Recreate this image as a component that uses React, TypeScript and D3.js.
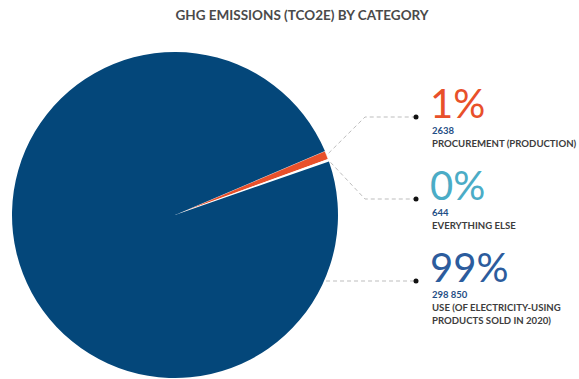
import React from "react";
import * as d3 from "d3";

const categories = ["PROCUREMENT (PRODUCTION)", "EVERYTHING ELSE", "USE (OF ELECTRICITY-USING PRODUCTS SOLD IN 2020)"];
const values = [2638, 644, 298850];
const valueLabels = ["2638", "644", "298 850"];
const percentLabels = ["1%", "0%", "99%"];
const nameLines = [["PROCUREMENT (PRODUCTION)"], ["EVERYTHING ELSE"], ["USE (OF ELECTRICITY-USING", "PRODUCTS SOLD IN 2020)"]];

const W = 579;
const H = 379;
const cx = 175;
const cy = 215;
const R = 163;
const sliceColors = ["#e8502a", "#ffffff", "#04477a"];
const percentColors = ["#e8502a", "#4bacc6", "#2c5c9d"];
const font = "Lato, 'Noto Sans', sans-serif";

export default function App() {
  const startDeg = 66.9;
  const pie = d3
    .pie<number>()
    .sort(null)
    .value((d) => d)
    .startAngle((startDeg * Math.PI) / 180)
    .endAngle(((startDeg + 360) * Math.PI) / 180);
  const arcs = pie(values);
  const arc = d3.arc<d3.PieArcDatum<number>>().innerRadius(0).outerRadius(R);

  const labelX = 432;
  const dotX = 416;
  const rowY = [117, 199, 281];
  const edge = (a: number) => [cx + R * Math.sin(a), cy - R * Math.cos(a)];

  const mid0 = (arcs[0].startAngle + arcs[0].endAngle) / 2;
  const mid1 = (arcs[1].startAngle + arcs[1].endAngle) / 2;
  const p0 = edge(mid0);
  const p1 = edge(mid1);
  const leaders = [
    d3.line()([[p0[0] + 2, p0[1] - 2], [365, rowY[0]], [dotX, rowY[0]]]),
    d3.line()([[p1[0] + 2, p1[1] + 2], [365, rowY[1]], [dotX, rowY[1]]]),
    d3.line()([[cx + Math.sqrt(R * R - (rowY[2] - cy) ** 2) + 2, rowY[2]], [dotX, rowY[2]]]),
  ];

  return (
    <svg width={W} height={H} style={{ position: "absolute", left: 0, top: 0 }}>
      <text x={302} y={20} textAnchor="middle" fontFamily={font} fontWeight={700} fontSize={13.5} fill="#4a4a4a">
        GHG EMISSIONS (TCO2E) BY CATEGORY
      </text>
      <g transform={`translate(${cx},${cy})`}>
        {arcs.map((a, i) => (
          <path key={categories[i]} d={arc(a) || ""} fill={sliceColors[i]} stroke="#ffffff" strokeWidth={i === 2 ? 0 : 0.6} />
        ))}
      </g>
      {leaders.map((d, i) => (
        <g key={i}>
          <path d={d || ""} fill="none" stroke="#bdbdbd" strokeWidth={1} strokeDasharray="4 3" />
          <circle cx={dotX} cy={rowY[i]} r={2.5} fill="#111" />
        </g>
      ))}
      {categories.map((c, i) => (
        <g key={c}>
          <text x={labelX - 2} y={rowY[i] + 1} fontFamily={font} fontSize={40} fill={percentColors[i]}>
            {percentLabels[i]}
          </text>
          <text x={labelX} y={rowY[i] + 17} fontFamily={font} fontWeight={700} fontSize={9.5} fill="#1f4e85">
            {valueLabels[i]}
          </text>
          {nameLines[i].map((ln, j) => (
            <text key={j} x={labelX} y={rowY[i] + 30 + j * 12.5} fontFamily={font} fontWeight={700} fontSize={9.6} fill="#3d3d3d">
              {ln}
            </text>
          ))}
        </g>
      ))}
    </svg>
  );
}
